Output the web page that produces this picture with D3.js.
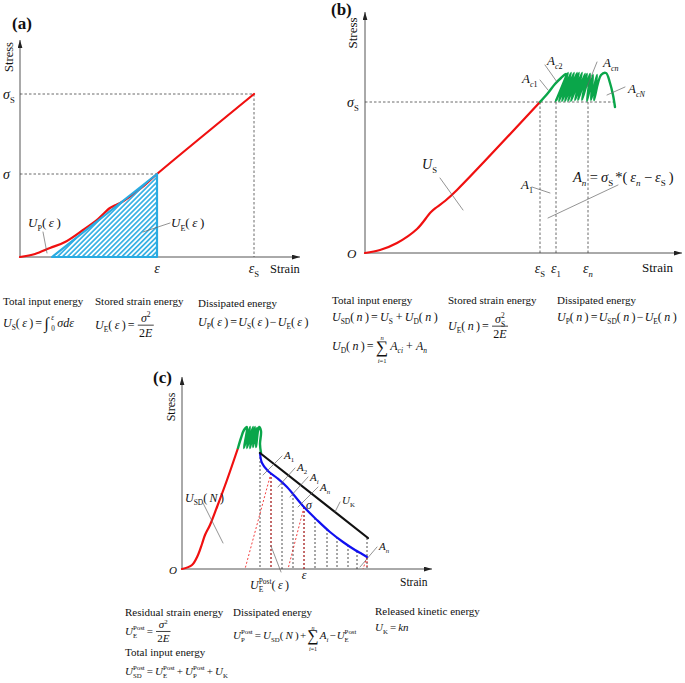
<!DOCTYPE html>
<html>
<head>
<meta charset="utf-8">
<script src="https://cdn.jsdelivr.net/npm/d3@7"></script>
<style>
  body { margin: 0; background: #fff; }
  text { font-family: 'Liberation Serif', 'Times New Roman', serif; fill: #111; white-space: pre; }
</style>
</head>
<body>
<script>
// ---- panel (a): loading up to sigma_S ----
const curveA = [[0,0],[15,3],[30,9],[45,15],[63,27],[78,38],[90,49],[96,52],[102,55],[120,68],[137,83],[234,163]];
const elasticA = [[32,0],[137,83],[137,0]];
const sigmaA = 83, sigmaSA = 163, epsA = 137, epsSA = 234;

// ---- panel (b): pre-peak + fluctuating plateau ----
const curveB = [[0,0],[15,3],[32,10],[52,24],[66,41],[72,46],[80,52],[92,63],[175,151]];
const greenB = [[175,151],[183,160],[190,169],[196,175],[201,179],
  [191,152],[203,180],[194,152],[206,180],[197,152],[209,180],[200,152],[212,180],
  [203,152],[214,180],[206,152],[217,180],[210,153],[220,179],[213,153],[222,179],
  [217,153],[225,179],[222,152],[228,178],[226,153],[232,178],[229,153],[236,178],
  [241,180],[245,170],[248,158],[250,146]];
const sigmaSB = 151;
const epsB = [175, 191, 223];          // eps_S, eps_1, eps_n

// ---- panel (c): post-peak ----
const curveC = [[0,0],[10,4],[16,14],[20,25],[23,34],[28,44],[35,62],[45,89],[56,121]];
const greenC = [[56,121],[59,131],[62,139],[65,142],[62,121],[68,142],[65,121],[71,142],
  [68,121],[73,142],[71,122],[75,141],[74,122],[77,142],[79,138],[78,125],[79,116]];
const unloadC = [[78,116],[80,106],[86,98],[95,91],[105,82],[121,63],[135,49],[148,37],[161,27],[173,19],[180,15],[185,12]];
const chordC = [[78,116],[186,31]];
const dropC = [[78,116],[89,96],[100,86],[111,75],[122,62],[133,51],[145,40],[155,32],[166,24],[175,18],[185,31]];
const residualC = [[[89,96],[63,0]], [[122,62],[106,0]], [[185,12],[181,0]]];
const residualX = [[89,96],[122,62],[185,12]];

// scales (strain / stress, arbitrary units)
const xA = d3.scaleLinear().domain([0, 280]).range([20, 300]);
const yA = d3.scaleLinear().domain([0, 217]).range([257, 40]);
const xB = d3.scaleLinear().domain([0, 317]).range([365, 682]);
const yB = d3.scaleLinear().domain([0, 241]).range([253, 12]);
const xC = d3.scaleLinear().domain([0, 250]).range([182, 432]);
const yC = d3.scaleLinear().domain([0, 192]).range([569, 377]);

const RED = "#f01010", GREEN = "#0aa64a", BLUE = "#1010f0", CYAN = "#29abe2";
const T = "\u2009"; // thin space used inside brackets

const svg = d3.select("body").append("svg").attr("width", 685).attr("height", 683);
const defs = svg.append("defs");
defs.append("marker").attr("id", "arrow").attr("viewBox", "0 0 10 6")
  .attr("refX", 10).attr("refY", 3).attr("markerWidth", 8).attr("markerHeight", 5)
  .attr("markerUnits", "userSpaceOnUse").attr("orient", "auto")
  .append("path").attr("d", "M0,0L10,3L0,6Z").attr("fill", "#222");
const pat = defs.append("pattern").attr("id", "hatch").attr("patternUnits", "userSpaceOnUse")
  .attr("width", 3.5).attr("height", 3.5).attr("patternTransform", "rotate(45)");
pat.append("line").attr("x1", 1.75).attr("y1", 0).attr("x2", 1.75).attr("y2", 3.5)
  .attr("stroke", CYAN).attr("stroke-width", 1.6);

// ---------- helpers ----------
function parse(str) {
  const out = [];
  let it = false, mode = "n", buf = "";
  const flush = () => { if (buf) { out.push({ text: buf, it, mode }); buf = ""; } };
  for (let i = 0; i < str.length; i++) {
    const c = str[i];
    if (c === "$") { flush(); it = !it; }
    else if ((c === "_" || c === "^") && str[i + 1] === "{") { flush(); mode = c === "_" ? "sub" : "sup"; i++; }
    else if (c === "}" && mode !== "n") { flush(); mode = "n"; }
    else buf += c;
  }
  flush();
  return out;
}

function rich(g, x, y, str, size, anchor) {
  const t = g.append("text").attr("x", x).attr("y", y).attr("font-size", size)
    .attr("text-anchor", anchor || "start");
  let shift = 0, prevMode = "n", prevNode = null;
  parse(str.replace(/\(/g, "(" + T).replace(/\)/g, T + ")")).forEach(tk => {
    const target = tk.mode === "sub" ? size * 0.28 : tk.mode === "sup" ? -size * 0.42 : 0;
    const ts = t.append("tspan").text(tk.text).attr("dy", target - shift)
      .attr("font-style", tk.it ? "italic" : "normal")
      .attr("font-size", tk.mode === "n" ? size : size * 0.62);
    if (tk.mode === "sup" && prevMode === "sub") ts.attr("dx", -prevNode.getComputedTextLength());
    shift = target; prevMode = tk.mode; prevNode = ts.node();
  });
  return t;
}

function right(t) { const b = t.node().getBBox(); return b.x + b.width; }

function row(g, x, y, items, size) {
  let cx = x;
  items.forEach(it => {
    if (typeof it === "number") { cx += it; return; }
    if (typeof it === "string") { cx = right(rich(g, cx, y, it, size)); return; }
    if (it.frac) {
      const ax = y - size * 0.32;
      const n = rich(g, 0, ax - 3, it.frac[0], size, "middle");
      const d = rich(g, 0, ax + size * 0.95, it.frac[1], size, "middle");
      const w = Math.max(n.node().getBBox().width, d.node().getBBox().width) + 4;
      n.attr("x", cx + w / 2); d.attr("x", cx + w / 2);
      g.append("line").attr("x1", cx + 1).attr("x2", cx + w - 1).attr("y1", ax).attr("y2", ax)
        .attr("stroke", "#111").attr("stroke-width", 0.8);
      cx += w;
    } else if (it.sum) {
      const s = g.append("text").attr("x", cx).attr("y", y + size * 0.22).attr("font-size", size * 1.45).text("∑");
      const w = s.node().getBBox().width;
      rich(g, cx + w / 2, y + size * 1.05, it.sum[0], size * 0.55, "middle");
      rich(g, cx + w / 2, y - size * 0.82, it.sum[1], size * 0.55, "middle");
      cx += w;
    } else if (it.int) {
      const s = g.append("text").attr("x", cx).attr("y", y + size * 0.15).attr("font-size", size * 1.35).text("∫");
      const w = s.node().getBBox().width;
      const lo = rich(g, cx + w, y + size * 0.3, it.int[0], size * 0.6);
      const hi = rich(g, cx + w, y - size * 0.6, it.int[1], size * 0.6);
      cx = Math.max(right(lo), right(hi));
    }
  });
}

function axes(g, xs, ys) {
  g.append("line").attr("x1", xs(0)).attr("y1", ys(0)).attr("x2", xs.range()[1]).attr("y2", ys(0))
    .attr("stroke", "#555").attr("stroke-width", 1).attr("marker-end", "url(#arrow)");
  g.append("line").attr("x1", xs(0)).attr("y1", ys(0)).attr("x2", xs(0)).attr("y2", ys.range()[1])
    .attr("stroke", "#555").attr("stroke-width", 1).attr("marker-end", "url(#arrow)");
}

function path(g, xs, ys, pts, stroke, width, dash, curve) {
  const ln = d3.line().x(d => xs(d[0])).y(d => ys(d[1])).curve(curve || d3.curveLinear);
  return g.append("path").attr("d", ln(pts)).attr("fill", "none").attr("stroke", stroke)
    .attr("stroke-width", width).attr("stroke-dasharray", dash || null)
    .attr("stroke-linejoin", "round").attr("stroke-linecap", dash ? "butt" : "round");
}

function leaders(g, xs, ys, list) {
  list.forEach(l => path(g, xs, ys, l, "#666", 0.7));
}

function ylabel(g, x, y, size) {
  g.append("text").attr("transform", `translate(${x},${y}) rotate(-90)`).attr("text-anchor", "middle")
    .attr("font-size", size).text("Stress");
}

function label(g, x, y, str, size) {
  g.append("text").attr("x", x).attr("y", y).attr("font-size", size).text(str);
}

const smooth = d3.curveCatmullRom.alpha(0.5);

// ================= (a) =================
const gA = svg.append("g");
axes(gA, xA, yA);
path(gA, xA, yA, [[0, sigmaSA], [epsSA, sigmaSA], [epsSA, 0]], "#444", 0.8, "2.5,2");
path(gA, xA, yA, [[0, sigmaA], [epsA, sigmaA]], "#444", 0.8, "2.5,2");
path(gA, xA, yA, curveA, RED, 2.2, null, smooth);
gA.append("path").attr("d", d3.line().x(d => xA(d[0])).y(d => yA(d[1]))(elasticA) + "Z")
  .attr("fill", "url(#hatch)").attr("stroke", CYAN).attr("stroke-width", 2.2).attr("stroke-linejoin", "round");
leaders(gA, xA, yA, [[[23, 25], [27, 4]], [[150, 34], [123, 25]]]);

gA.append("text").attr("x", 12).attr("y", 29).attr("font-size", 17).attr("font-weight", "bold").text("(a)");
ylabel(gA, 13, 57, 12.5);
rich(gA, 3, 99, "$σ$_{S}", 14);
rich(gA, 3, 179, "$σ$", 14);
rich(gA, xA(epsA), 273, "$ε$", 14, "middle");
rich(gA, xA(epsSA), 273, "$ε$_{S}", 14, "middle");
label(gA, 270, 273, "Strain", 12.5);
rich(gA, 28, 227, "$U$_{P}($ε$)", 13);
rich(gA, 171, 227, "$U$_{E}($ε$)", 13);

label(gA, 3, 305, "Total input energy", 11);
label(gA, 95, 305, "Stored strain energy", 11);
label(gA, 198, 307, "Dissipated energy", 11);
row(gA, 3, 327, ["$U$_{S}($ε$)", 2, "=", 2, { int: ["0", "$ε$"] }, 2, "$σdε$"], 12);
row(gA, 95, 329, ["$U$_{E}($ε$)", 2, "=", 2, { frac: ["$σ$^{2}", "2$E$"] }], 12);
row(gA, 198, 326, ["$U$_{P}($ε$)", 2, "=", 1, "$U$_{S}($ε$)", 1, "−", 1, "$U$_{E}($ε$)"], 12);

// ================= (b) =================
const gB = svg.append("g");
axes(gB, xB, yB);
path(gB, xB, yB, [[0, sigmaSB], [250, sigmaSB]], "#444", 0.8, "2.5,2");
epsB.forEach(e => path(gB, xB, yB, [[e, sigmaSB], [e, 0]], "#444", 0.8, "2.5,2"));
path(gB, xB, yB, curveB, RED, 2.2, null, smooth);
path(gB, xB, yB, greenB, GREEN, 2.4, null, smooth);
leaders(gB, xB, yB, [
  [[75, 75], [98, 43]], [[167, 66], [185, 60]], [[253, 68], [183, 35]],
  [[175, 173], [183, 163]], [[180, 188], [192, 171]], [[232, 191], [222, 166]], [[260, 166], [242, 158]]
]);

gB.append("text").attr("x", 331).attr("y", 15).attr("font-size", 17).attr("font-weight", "bold").text("(b)");
ylabel(gB, 357, 33, 13);
rich(gB, 347, 258, "$O$", 13);
rich(gB, 347, 107, "$σ$_{S}", 14);
rich(gB, xB(epsB[0]), 273, "$ε$_{S}", 14, "middle");
rich(gB, xB(epsB[1]), 273, "$ε$_{1}", 14, "middle");
rich(gB, xB(epsB[2]), 273, "$ε$_{$n$}", 14, "middle");
label(gB, 642, 272, "Strain", 13);
rich(gB, 422, 169, "$U$_{S}", 14);
rich(gB, 521, 189, "$A$_{1}", 13);
row(gB, 573, 182, ["$A$_{$n$}", 3, "=", 3, "$σ$_{S}", 2, "*", "(", "$ε$_{$n$}", 3, "−", 3, "$ε$_{S}", ")"], 14.5);
rich(gB, 522, 83, "$A$_{$c$1}", 13);
rich(gB, 547, 65, "$A$_{$c$2}", 13);
rich(gB, 603, 67, "$A$_{$cn$}", 13);
rich(gB, 628, 93, "$A$_{$cN$}", 13);

label(gB, 332, 304, "Total input energy", 11);
label(gB, 448, 304, "Stored strain energy", 11);
label(gB, 557, 304, "Dissipated energy", 11);
row(gB, 332, 321, ["$U$_{SD}($n$)", 2, "=", 2, "$U$_{S}", 3, "+", 2, "$U$_{D}($n$)"], 12);
row(gB, 448, 330, ["$U$_{E}($n$)", 2, "=", 2, { frac: ["$σ$_{S}^{2}", "2$E$"] }], 12);
row(gB, 557, 321, ["$U$_{P}($n$)", 2, "=", 1, "$U$_{SD}($n$)", 1, "−", 1, "$U$_{E}($n$)"], 12);
row(gB, 332, 350, ["$U$_{D}($n$)", 2, "=", 2, { sum: ["$i$=1", "$n$"] }, 2, "$A$_{$ci$}", 3, "+", 3, "$A$_{$n$}"], 12);

// ================= (c) =================
const gC = svg.append("g");
axes(gC, xC, yC);
dropC.forEach(d => path(gC, xC, yC, [d, [d[0], 0]], "#222", 0.8, "2,2"));
residualC.forEach(r => path(gC, xC, yC, r, RED, 0.8, "2,2"));
residualX.forEach(r => path(gC, xC, yC, [r, [r[0], 0]], RED, 0.8, "2,2"));
path(gC, xC, yC, curveC, RED, 2.2, null, smooth);
path(gC, xC, yC, greenC, GREEN, 2.4, null, smooth);
path(gC, xC, yC, unloadC, BLUE, 2.2, null, smooth);
path(gC, xC, yC, chordC, "#111", 2.2);
leaders(gC, xC, yC, [
  [[100, 113], [81, 94]], [[113, 101], [96, 82]], [[126, 92], [108, 72]], [[136, 82], [116, 62]],
  [[158, 67], [153, 57]], [[195, 22], [178, 2]], [[21, 66], [41, 26]], [[89, 23], [99, -3]]
]);

gC.append("text").attr("x", 153).attr("y", 383).attr("font-size", 17).attr("font-weight", "bold").text("(c)");
ylabel(gC, 175, 407, 12);
rich(gC, 169, 574, "$O$", 11);
label(gC, 400, 586, "Strain", 11.5);
rich(gC, 185, 502, "$U$_{SD}($N$)", 12);
rich(gC, 284, 459, "$A$_{1}", 11);
rich(gC, 297, 471, "$A$_{2}", 11);
rich(gC, 310, 481, "$A$_{$i$}", 11);
rich(gC, 320, 491, "$A$_{$n$}", 11);
rich(gC, 342, 504, "$U$_{K}", 11);
rich(gC, 306, 509, "$σ$", 12);
rich(gC, 379, 550, "$A$_{$n$}", 11);
rich(gC, xC(122), 579, "$ε$", 12, "middle");
rich(gC, 250, 589, "$U$_{E}^{Post}($ε$)", 12);

label(gC, 125, 616, "Residual strain energy", 11);
row(gC, 125, 635, ["$U$_{E}^{Post}", 2, "=", 2, { frac: ["$σ$^{2}", "2$E$"] }], 11);
label(gC, 125, 656, "Total input energy", 11);
row(gC, 125, 675, ["$U$_{SD}^{Post}", 2, "=", 2, "$U$_{E}^{Post}", 2, "+", 2, "$U$_{P}^{Post}", 2, "+", 2, "$U$_{K}"], 11);
label(gC, 233, 616, "Dissipated energy", 11);
row(gC, 233, 639, ["$U$_{P}^{Post}", 2, "=", 2, "$U$_{SD}($N$)", 1, "+", 1, { sum: ["$i$=1", "$n$"] }, 1, "$A$_{$i$}", 1, "−", 1, "$U$_{E}^{Post}"], 11);
label(gC, 375, 615, "Released kinetic energy", 11);
row(gC, 375, 631, ["$U$_{K}", 2, "=", 2, "$kn$"], 11);
</script>
</body>
</html>
